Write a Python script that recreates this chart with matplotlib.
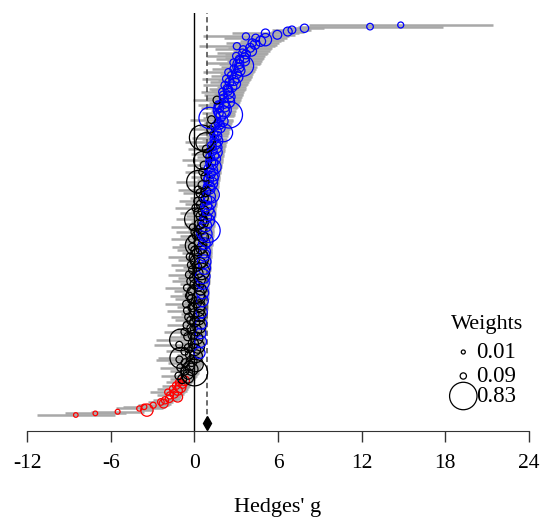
import matplotlib
matplotlib.use("Agg")
import matplotlib.pyplot as plt
import numpy as np

plt.rcParams['font.family'] = ['Liberation Serif', 'DejaVu Serif']

# effect sizes (Hedges' g), rows from bottom to top
g = [-8.50, -7.10, -5.50, -3.40, -3.95, -3.60, -2.95, -2.20, -2.40, -2.10,
     -1.80, -1.20, -1.75, -1.45, -1.90, -1.20, -1.55, -1.00, -1.30, -0.85,
     -1.10, -0.70, -0.87, -0.45, -1.12, -0.45, 0.00, -0.68, -0.18, -0.99,
     -0.35, 0.12, -0.66, -0.19, -1.07, -1.00, 0.12, -0.32, 0.37, -0.69,
     0.03, -0.41, 0.25, -1.08, -0.07, 0.45, -1.00, 0.17, -0.47, -0.11,
     0.45, -0.69, 0.12, -0.22, 0.35, -0.54, 0.49, 0.03, -0.26, 0.30,
     -0.40, 0.36, -0.03, 0.53, -0.51, 0.20, -0.14, 0.35, -0.57, 0.14,
     0.58, -0.19, 0.32, -0.37, 0.09, 0.59, -0.20, 0.46, -0.53, 0.28,
     0.03, 0.61, -0.25, 0.39, -0.03, 0.60, -0.37, 0.26, 0.50, -0.12,
     0.72, 0.18, -0.23, 0.42, 0.71, 0.04, 0.33, -0.31, 0.70, 0.18,
     0.72, 0.03, 0.49, -0.15, 0.10, 0.72, 0.33, 0.86, -0.15, 0.62,
     0.18, 0.81, 0.05, 1.00, 0.48, -0.11, 0.80, 0.36, 0.63, 0.94,
     0.10, 0.81, 0.47, 1.04, 0.25, 0.66, 0.95, 0.10, 0.85, 0.46,
     1.07, 0.25, 0.84, 0.66, 1.07, 1.20, 0.44, 0.82, 0.27, 1.08,
     1.05, 0.57, 1.23, 0.25, 1.01, 1.21, 0.80, 1.36, 1.13, 0.60,
     1.27, 1.04, 1.40, 0.72, 1.30, 1.17, 0.59, 1.46, 1.13, 1.39,
     0.93, 1.58, 1.30, 0.86, 1.58, 1.26, 1.51, 0.81, 1.64, 1.45,
     0.55, 1.63, 1.40, 2.10, 1.62, 1.16, 1.85, 1.48, 1.81, 1.70,
     2.04, 1.23, 1.10, 1.91, 2.50, 1.75, 2.11, 2.00, 1.78, 2.18,
     1.73, 2.13, 2.47, 1.62, 2.12, 2.52, 2.07, 2.47, 2.02, 2.42,
     2.38, 2.69, 2.20, 2.91, 2.52, 2.83, 2.29, 3.10, 2.67, 3.03,
     2.45, 3.27, 2.85, 3.22, 3.50, 3.23, 2.81, 3.60, 3.23, 3.61,
     3.00, 3.70, 3.45, 4.10, 3.50, 4.00, 3.05, 4.35, 4.15, 4.75,
     5.10, 4.40, 3.70, 5.95, 5.10, 6.70, 7.00, 7.90, 12.60, 14.80]

# half width of the 95% CI
hw = [2.80, 2.20, 1.90, 0.45, 1.70, 1.50, 1.10, 0.50, 0.90, 0.85,
      0.75, 0.25, 0.90, 0.70, 1.25, 0.65, 1.10, 0.62, 1.00, 0.62,
      0.95, 0.63, 0.90, 0.55, 1.30, 0.70, 0.32, 1.05, 0.60, 1.45,
      0.85, 0.40, 1.20, 0.75, 1.65, 1.60, 0.50, 0.95, 0.28, 1.35,
      0.65, 1.10, 0.45, 1.80, 0.80, 0.30, 1.76, 0.60, 1.25, 0.90,
      0.35, 1.50, 0.70, 1.05, 0.50, 1.40, 0.38, 0.85, 1.15, 0.60,
      1.30, 0.55, 0.95, 0.40, 1.45, 0.75, 1.10, 0.62, 1.55, 0.85,
      0.42, 1.20, 0.70, 1.40, 0.95, 0.45, 1.25, 0.60, 1.60, 0.80,
      1.05, 0.48, 1.35, 0.72, 1.15, 0.52, 1.50, 0.88, 0.65, 1.28,
      0.45, 1.00, 1.42, 0.78, 0.50, 1.18, 0.90, 1.55, 0.55, 1.08,
      0.55, 1.25, 0.80, 1.45, 1.21, 0.60, 1.00, 0.48, 1.50, 0.75,
      1.20, 0.58, 1.35, 0.42, 0.95, 1.55, 0.65, 1.10, 0.85, 0.55,
      1.40, 0.70, 1.05, 0.50, 1.30, 0.90, 0.62, 1.48, 0.75, 1.15,
      0.55, 1.38, 0.80, 1.00, 0.60, 0.48, 1.25, 0.88, 1.45, 0.65,
      0.70, 1.20, 0.55, 1.55, 0.80, 0.62, 1.05, 0.50, 0.75, 1.30,
      0.65, 0.90, 0.55, 1.25, 0.70, 0.85, 1.45, 0.60, 0.95, 0.72,
      1.20, 0.58, 0.88, 1.35, 0.65, 1.00, 0.78, 1.50, 0.70, 0.92,
      0.75, 0.80, 1.05, 0.38, 0.90, 1.40, 0.75, 1.15, 0.85, 1.00,
      0.70, 1.55, 0.50, 0.95, 0.40, 1.20, 0.88, 0.45, 1.30, 0.95,
      1.45, 1.10, 0.80, 1.70, 1.25, 0.90, 1.40, 1.05, 1.55, 1.20,
      1.30, 1.05, 1.60, 0.95, 1.40, 1.15, 1.75, 1.00, 1.50, 1.20,
      1.85, 1.10, 1.60, 1.30, 0.60, 1.45, 1.95, 1.25, 1.70, 1.40,
      2.10, 1.50, 1.85, 1.30, 2.00, 1.60, 2.70, 1.55, 1.90, 1.45,
      1.30, 2.25, 3.10, 1.25, 2.40, 1.20, 1.40, 1.40, 5.20, 6.60]

# weights (%)
wt = [0.03, 0.03, 0.04, 0.30, 0.05, 0.06, 0.08, 0.18, 0.10, 0.12,
      0.14, 0.22, 0.12, 0.17, 0.09, 0.20, 0.10, 0.25, 0.13, 0.17,
      0.12, 0.21, 0.18, 0.26, 0.13, 0.22, 0.80, 0.15, 0.30, 0.13,
      0.20, 0.38, 0.15, 0.24, 0.11, 0.60, 0.32, 0.18, 0.26, 0.13,
      0.28, 0.18, 0.34, 0.11, 0.22, 0.28, 0.62, 0.30, 0.15, 0.20,
      0.24, 0.13, 0.26, 0.18, 0.32, 0.13, 0.26, 0.22, 0.15, 0.30,
      0.15, 0.30, 0.22, 0.26, 0.13, 0.42, 0.18, 0.28, 0.13, 0.24,
      0.28, 0.18, 0.32, 0.13, 0.50, 0.30, 0.15, 0.26, 0.11, 0.22,
      0.20, 0.32, 0.15, 0.26, 0.18, 0.38, 0.13, 0.22, 0.45, 0.15,
      0.30, 0.20, 0.13, 0.26, 0.34, 0.18, 0.55, 0.13, 0.28, 0.20,
      0.30, 0.15, 0.24, 0.13, 0.60, 0.28, 0.20, 0.34, 0.13, 0.26,
      0.18, 0.32, 0.15, 0.70, 0.22, 0.11, 0.30, 0.20, 0.24, 0.36,
      0.65, 0.28, 0.20, 0.32, 0.15, 0.24, 0.30, 0.13, 0.26, 0.18,
      0.34, 0.15, 0.26, 0.20, 0.30, 0.45, 0.18, 0.22, 0.13, 0.28,
      0.26, 0.16, 0.30, 0.65, 0.22, 0.36, 0.18, 0.28, 0.24, 0.14,
      0.26, 0.20, 0.38, 0.16, 0.24, 0.22, 0.50, 0.28, 0.18, 0.22,
      0.16, 0.28, 0.20, 0.14, 0.26, 0.18, 0.24, 0.55, 0.26, 0.18,
      0.75, 0.20, 0.15, 0.50, 0.18, 0.12, 0.22, 0.15, 0.20, 0.16,
      0.24, 0.14, 0.62, 0.22, 0.80, 0.18, 0.26, 0.50, 0.18, 0.24,
      0.16, 0.22, 0.28, 0.14, 0.18, 0.26, 0.15, 0.22, 0.14, 0.20,
      0.18, 0.22, 0.15, 0.26, 0.18, 0.22, 0.13, 0.24, 0.16, 0.20,
      0.13, 0.22, 0.16, 0.20, 0.60, 0.18, 0.12, 0.22, 0.16, 0.20,
      0.12, 0.18, 0.13, 0.22, 0.13, 0.18, 0.12, 0.20, 0.16, 0.22,
      0.30, 0.14, 0.12, 0.18, 0.16, 0.18, 0.14, 0.16, 0.10, 0.08]

pooled = 0.89
legend_w = [0.01, 0.09, 0.83]
xticks = [-12, -6, 0, 6, 12, 18, 24]

g = np.array(g)
hw = np.array(hw)
wt = np.array(wt)
lo = g - hw
hi = g + hw
rows = np.arange(len(g))

cols = []
for l, h in zip(lo, hi):
    if h < 0:
        cols.append('#ff0000')
    elif l > 0:
        cols.append('#0000ff')
    else:
        cols.append('black')


def msize(w):
    r = 1.86 + 14.3 * np.asarray(w)     # radius in px
    return (2 * r * 0.72) ** 2


fig = plt.figure(figsize=(5.41, 5.19), dpi=100)
ax = fig.add_axes([27 / 541, 88 / 519, 502 / 541, 418 / 519])

ax.hlines(rows, lo, hi, color='#a8a8a8', lw=1.8, zorder=1)
ax.axvline(0, color='black', lw=1.0, zorder=2)
ax.plot([pooled, pooled], [-5.1, 250], color='#444444', lw=1.1,
        dashes=(3.5, 2.2), zorder=2)
ax.plot([pooled], [-5.1], marker='d', ms=7, color='black', zorder=4)
ax.scatter(g, rows, s=msize(wt), facecolors='none', edgecolors=cols,
           linewidths=0.9, zorder=3)

ax.set_xlim(-12, 24)
ax.set_ylim(-9.8, 246.35)
for s in ['left', 'right', 'top']:
    ax.spines[s].set_visible(False)
ax.spines['bottom'].set_bounds(-12, 24)
ax.spines['bottom'].set_color('#333333')
ax.set_yticks([])
ax.set_xticks(xticks)
ax.set_xticklabels([str(t) for t in xticks], fontsize=15.5)
ax.tick_params(axis='x', direction='out', length=7.7, width=1,
               color='#333333', pad=9)

fig.text(278 / 541, 7 / 519, "Hedges' g", fontsize=16, ha='center',
         va='baseline')

# weights legend drawn in pixel coordinates
lg = fig.add_axes([0, 0, 1, 1], facecolor='none')
lg.set_xlim(0, 541)
lg.set_ylim(519, 0)
lg.axis('off')
lg.text(487, 329, 'Weights', fontsize=16, ha='center', va='baseline')
for w, yy in zip(legend_w, [352, 376, 396]):
    lg.scatter([463.3], [yy], s=msize(w), facecolors='none',
               edgecolors='black', linewidths=0.9)
    lg.text(476, yy + 1, f'{w:.2f}', fontsize=16.5, ha='left', va='center')

fig.savefig('out.png', dpi=100)
